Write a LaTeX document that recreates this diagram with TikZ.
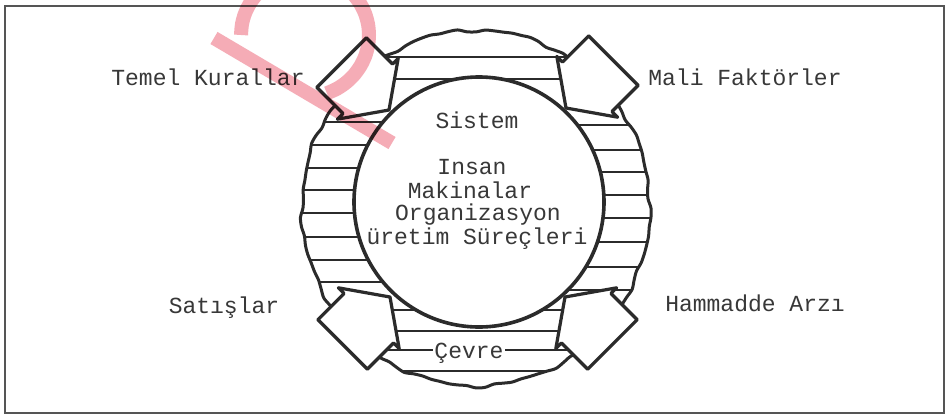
\documentclass[tikz,border=0pt]{standalone}
\usepackage{fontspec}
\newfontfamily\dotfont{Liberation Mono}
\definecolor{ink}{HTML}{2B2B2B}
\definecolor{txt}{HTML}{383838}
\definecolor{wm}{RGB}{245,172,182}
\definecolor{framegray}{HTML}{555555}
\newcommand\myblockarrow[3]{%
  \begin{scope}[shift={(#1,#2)}, rotate=#3]
    \draw[blockarrow] (0,0) -- (30,43) -- (30,35) -- (67,35) -- (67,-35) -- (30,-35) -- (30,-43) -- cycle;
  \end{scope}}
\begin{document}
\begin{tikzpicture}[x=1pt,y=-1pt,
  lbl/.style={font=\dotfont\fontsize{23}{23}\selectfont, text=txt, inner sep=0pt, text height=12pt, text depth=0pt},
  hatch/.style={draw=ink, line width=2.4pt},
  ring/.style={draw=ink, line width=3pt, line join=round},
  innercirc/.style={draw=ink, fill=white, line width=3.6pt},
  blockarrow/.style={draw=ink, fill=white, line width=3.2pt, line join=round},
  wmark/.style={draw=wm, line width=14pt}]
\useasboundingbox (0,0) rectangle (948,416);
\fill[white] (0,0) rectangle (948,416);
\draw[framegray, line width=1.8pt] (5,6) rectangle (944,413);

% hatching inside the environment ring
\begin{scope}
  \clip plot[smooth cycle, domain=0:357, samples=120]
    ({476+(174+1.0*sin(13*\x)+0.8*sin(29*\x+30)+0.6*sin(41*\x+70))*cos(\x)},
     {208+(178+1.0*sin(13*\x)+0.8*sin(29*\x+30)+0.6*sin(41*\x+70))*sin(\x)});
  \foreach \yy in {57,79,310,331,350,371} \draw[hatch] (290,\yy) -- (660,\yy);
  \foreach \yy in {122,145,168,190,213,237,260,282} \draw[hatch] (290,\yy) -- (478,\yy);
  \foreach \yy in {125,150,172,195,218,242,267,290} \draw[hatch] (478,\yy) -- (660,\yy);
\end{scope}
\draw[ring] plot[smooth cycle, domain=0:357, samples=120]
    ({476+(174+1.0*sin(13*\x)+0.8*sin(29*\x+30)+0.6*sin(41*\x+70))*cos(\x)},
     {208+(178+1.0*sin(13*\x)+0.8*sin(29*\x+30)+0.6*sin(41*\x+70))*sin(\x)});

% system circle
\draw[innercirc] (479,202) circle[radius=125pt];

% four block arrows pointing into the system
\myblockarrow{389}{110}{135}
\myblockarrow{566}{108}{45}
\myblockarrow{390}{297}{225}
\myblockarrow{565}{297}{315}

% texts
\node[lbl] (sistem) at (477,122) {Sistem};
\node[lbl] (insan) at (472,168) {Insan};
\node[lbl] (mak) at (470,192) {Makinalar};
\node[lbl] (org) at (478,214) {Organizasyon};
\node[lbl] (uret) at (477,238) {üretim Süreçleri};
\node[lbl] (temel) at (208,79) {Temel Kurallar};
\node[lbl] (mali) at (745,79) {Mali Faktörler};
\node[lbl] (hamm) at (755,305) {Hammadde Arzı};
\node[lbl] (sat) at (224,307) {Satışlar};
\node[lbl, fill=white, inner xsep=1pt] (cevre) at (469,352) {Çevre};

% watermark stroke
\begin{scope}[blend mode=multiply]
  \draw[wmark] (214,38) -- (392,143);
  \draw[wmark] plot[smooth, domain=180:430, samples=26] ({305+64*cos(\x)},{35+62*sin(\x)});
\end{scope}
\end{tikzpicture}
\end{document}
